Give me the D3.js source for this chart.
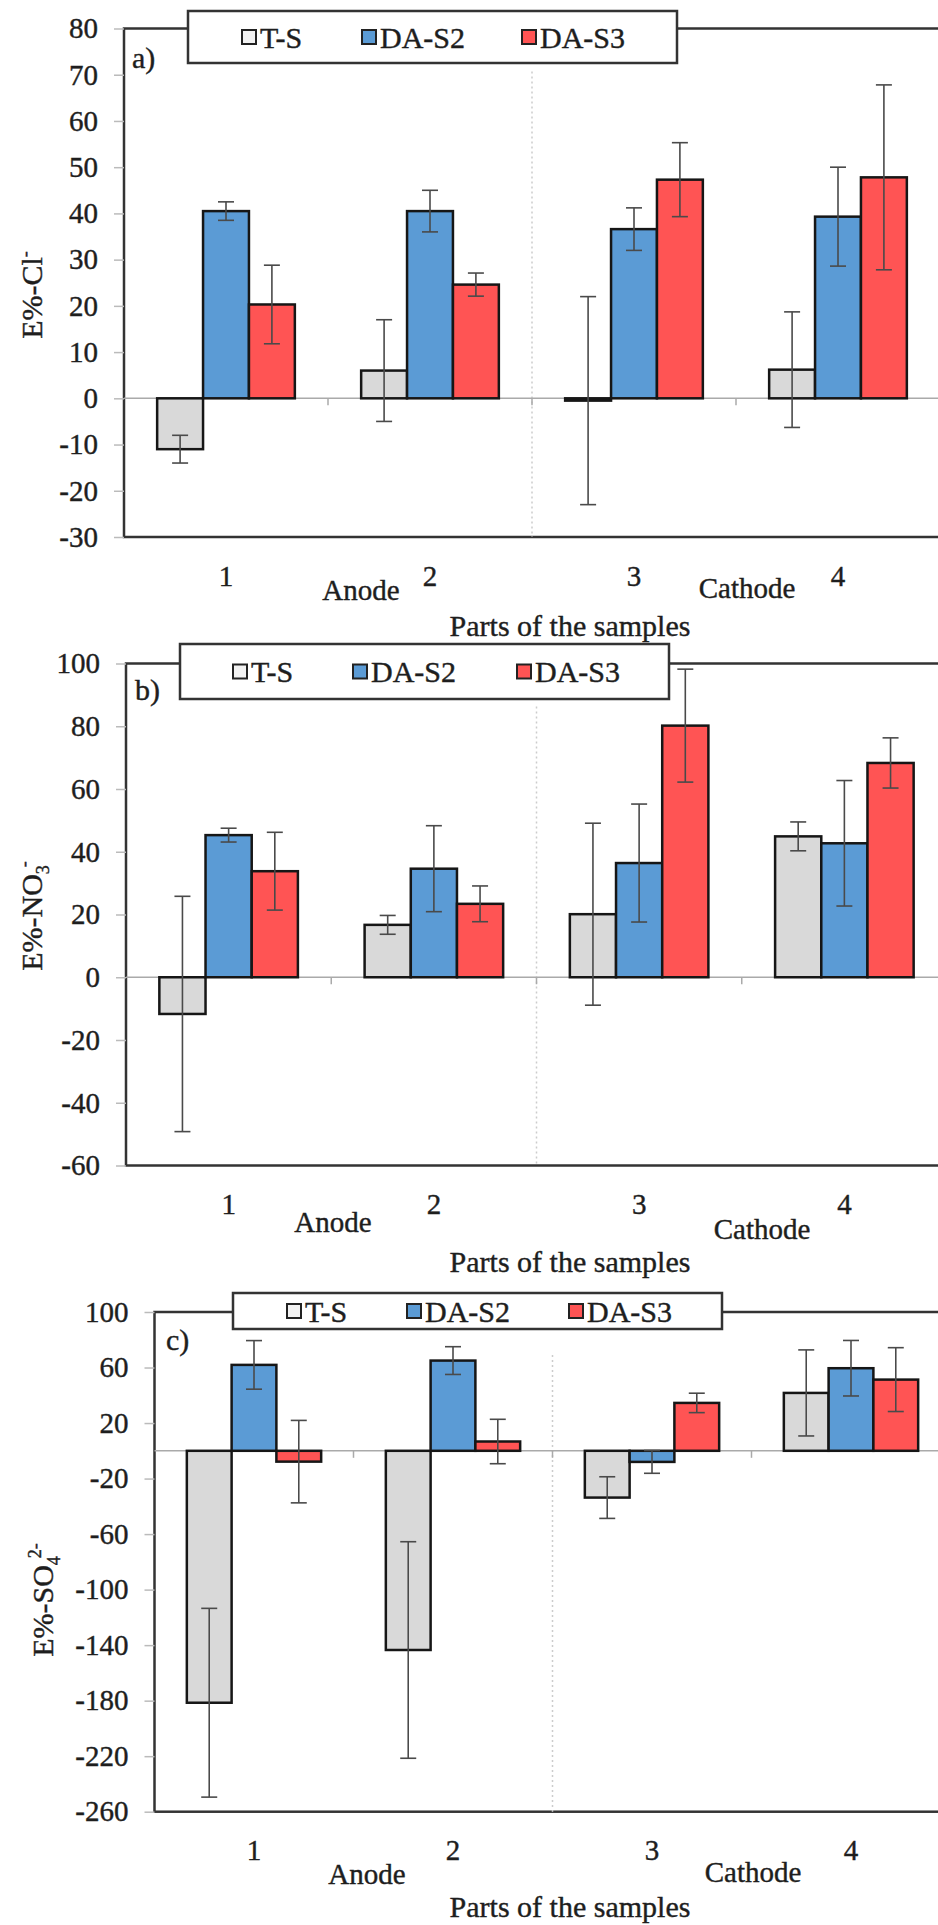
<!DOCTYPE html>
<html>
<head>
<meta charset="utf-8">
<script src="https://cdn.jsdelivr.net/npm/d3@7"></script>
<style>
  body { margin: 0; background: #fff; }
  text { font-family: "Liberation Serif", "Times New Roman", serif; fill: #1e1e1e;
         stroke: #1e1e1e; stroke-width: 0.4px; }
</style>
</head>
<body>
<script>

var categories = ["1", "2", "3", "4"];
var series = ["T-S", "DA-S2", "DA-S3"];
var colors = ["#d9d9d9", "#5b9bd5", "#ff5454"];

// a) chloride
var clTS = [-11, 6, -0.5, 6.2];
var clTSErr = [3, 11, 22.5, 12.5];
var clDA2 = [40.5, 40.5, 36.6, 39.3];
var clDA2Err = [2, 4.5, 4.6, 10.7];
var clDA3 = [20.3, 24.6, 47.3, 47.8];
var clDA3Err = [8.5, 2.5, 8, 20];
var clTicks = [-30, -20, -10, 0, 10, 20, 30, 40, 50, 60, 70, 80];

// b) nitrate
var noTS = [-11.7, 16.7, 20.1, 44.9];
var noTSErr = [37.5, 3, 29, 4.6];
var noDA2 = [45.3, 34.6, 36.4, 42.7];
var noDA2Err = [2.2, 13.7, 18.8, 20];
var noDA3 = [33.8, 23.4, 80.2, 68.3];
var noDA3Err = [12.4, 5.7, 18, 8];
var noTicks = [-60, -40, -20, 0, 20, 40, 60, 80, 100];

// c) sulphate
var soTS = [-181.5, -143.5, -33.7, 41.7];
var soTSErr = [68, 78, 15, 31];
var soDA2 = [61.9, 65, -8, 59.5];
var soDA2Err = [17.5, 10, 8.2, 20];
var soDA3 = [-7.8, 6.7, 34.5, 51.3];
var soDA3Err = [29.7, 16, 7, 23];
var soTicks = [-260, -220, -180, -140, -100, -60, -20, 20, 60, 100];

var W = 938, H = 1925;
var svg = d3.select("body").append("svg")
    .attr("width", W).attr("height", H)
    .attr("font-family", "Liberation Serif, serif");
svg.append("rect").attr("width", W).attr("height", H).attr("fill", "#fff");

var panels = [
  { letter: "a)", values: [clTS, clDA2, clDA3], errors: [clTSErr, clDA2Err, clDA3Err],
    domain: [-30, 80], ticks: clTicks, left: 124, right: 940, top: 28.5, bottom: 537,
    title: ["E%-Cl", null, "-"], titleX: 42, titleY: 295,
    legend: { x1: 188, x2: 677, y1: 11, y2: 63, items: [242, 362, 522] },
    letterPos: [132, 68], anode: [361, 600], cathode: [747, 598], parts: 636 },
  { letter: "b)", values: [noTS, noDA2, noDA3], errors: [noTSErr, noDA2Err, noDA3Err],
    domain: [-60, 100], ticks: noTicks, left: 126, right: 947, top: 663.5, bottom: 1165.5,
    title: ["E%-NO", "3", "-"], titleX: 42, titleY: 916,
    legend: { x1: 180, x2: 669, y1: 644, y2: 699, items: [233, 353, 517] },
    letterPos: [135, 700], anode: [333, 1232], cathode: [762, 1239], parts: 1272 },
  { letter: "c)", values: [soTS, soDA2, soDA3], errors: [soTSErr, soDA2Err, soDA3Err],
    domain: [-260, 100], ticks: soTicks, left: 154.5, right: 950.5, top: 1312, bottom: 1811.7,
    title: ["E%-SO", "4", "2-"], titleX: 53, titleY: 1600,
    legend: { x1: 233, x2: 722, y1: 1293, y2: 1329, items: [287, 407, 569] },
    letterPos: [166, 1350], anode: [367, 1884], cathode: [753, 1882], parts: 1917 }
];

panels.forEach(drawPanel);

function drawPanel(p) {
  var x0 = d3.scaleBand().domain(categories)
      .range([p.left, p.right]).paddingInner(0.325).paddingOuter(0.1625);
  var x1 = d3.scaleBand().domain(series).range([0, x0.bandwidth()]);
  var y = d3.scaleLinear().domain(p.domain).range([p.bottom, p.top]);
  var color = d3.scaleOrdinal().domain(series).range(colors);
  var g = svg.append("g");

  // plot frame (right side runs off the picture)
  g.append("rect")
      .attr("x", p.left).attr("y", p.top)
      .attr("width", p.right + 30 - p.left).attr("height", p.bottom - p.top)
      .attr("fill", "none").attr("stroke", "#333").attr("stroke-width", 2.5);

  // dotted divider anode / cathode
  var divX = p.left + 2 * x0.step();
  g.append("line")
      .attr("x1", divX).attr("x2", divX)
      .attr("y1", p.top + 43).attr("y2", p.bottom)
      .attr("stroke", "#ccc").attr("stroke-width", 1.5)
      .attr("stroke-dasharray", "2,3");

  // y axis
  var yAxis = g.append("g")
      .attr("transform", "translate(" + p.left + ",0)")
      .call(d3.axisLeft(y).tickValues(p.ticks).tickSize(10).tickPadding(16)
        .tickFormat(function(d) { return String(d); }));
  yAxis.attr("font-family", null).attr("font-size", null);
  yAxis.select(".domain").remove();
  yAxis.selectAll(".tick line").attr("stroke", "#bbb").attr("stroke-width", 1.5);
  yAxis.selectAll(".tick text")
      .style("font-size", "29px").attr("fill", "#1e1e1e");

  // zero line with category separators
  var zero = y(0);
  g.append("line")
      .attr("x1", p.left).attr("x2", p.right + 30)
      .attr("y1", zero).attr("y2", zero)
      .attr("stroke", "#aaa").attr("stroke-width", 1.5);
  g.selectAll(".sep").data(d3.range(1, categories.length)).enter()
    .append("line")
      .attr("x1", function(i) { return p.left + i * x0.step(); })
      .attr("x2", function(i) { return p.left + i * x0.step(); })
      .attr("y1", zero).attr("y2", zero + 7)
      .attr("stroke", "#aaa").attr("stroke-width", 1.5);

  // category labels
  var xAxis = g.append("g")
      .attr("transform", "translate(0," + p.bottom + ")")
      .call(d3.axisBottom(x0).tickSize(0).tickPadding(28));
  xAxis.attr("font-family", null).attr("font-size", null);
  xAxis.select(".domain").remove();
  xAxis.selectAll(".tick text")
      .style("font-size", "29px").attr("fill", "#1e1e1e");

  // bars
  var rows = categories.map(function(c, i) {
    return { cat: c, vals: series.map(function(s, j) {
      return { s: s, v: p.values[j][i], e: p.errors[j][i] };
    }) };
  });

  var grp = g.selectAll(".grp").data(rows).enter()
    .append("g")
      .attr("transform", function(d) { return "translate(" + x0(d.cat) + ",0)"; });

  grp.selectAll("rect").data(function(d) { return d.vals; }).enter()
    .append("rect")
      .attr("x", function(d) { return x1(d.s); })
      .attr("y", function(d) { return y(Math.max(d.v, 0)); })
      .attr("width", x1.bandwidth())
      .attr("height", function(d) { return Math.abs(y(d.v) - y(0)); })
      .attr("fill", function(d) { return color(d.s); })
      .attr("stroke", "#161616").attr("stroke-width", 2.5);

  // error bars
  var eb = grp.selectAll(".err").data(function(d) { return d.vals; }).enter()
    .append("g").attr("class", "err")
      .attr("stroke", "#4a4a4a").attr("stroke-width", 1.6);
  eb.append("line")
      .attr("x1", function(d) { return x1(d.s) + x1.bandwidth() / 2; })
      .attr("x2", function(d) { return x1(d.s) + x1.bandwidth() / 2; })
      .attr("y1", function(d) { return y(d.v + d.e); })
      .attr("y2", function(d) { return y(d.v - d.e); });
  [1, -1].forEach(function(sign) {
    eb.append("line")
        .attr("x1", function(d) { return x1(d.s) + x1.bandwidth() / 2 - 8; })
        .attr("x2", function(d) { return x1(d.s) + x1.bandwidth() / 2 + 8; })
        .attr("y1", function(d) { return y(d.v + sign * d.e); })
        .attr("y2", function(d) { return y(d.v + sign * d.e); });
  });

  // legend
  var L = p.legend;
  g.append("rect")
      .attr("x", L.x1).attr("y", L.y1)
      .attr("width", L.x2 - L.x1).attr("height", L.y2 - L.y1)
      .attr("fill", "#fff").attr("stroke", "#333").attr("stroke-width", 2.5);
  var cy = (L.y1 + L.y2) / 2;
  series.forEach(function(s, j) {
    g.append("rect")
        .attr("x", L.items[j]).attr("y", cy - 7)
        .attr("width", 14).attr("height", 14)
        .attr("fill", j === 0 ? "#f2f2f2" : colors[j])
        .attr("stroke", "#222").attr("stroke-width", 2);
    g.append("text")
        .attr("x", L.items[j] + 18).attr("y", cy)
        .attr("dy", "0.35em")
        .style("font-size", "30px")
        .text(s);
  });

  // panel letter
  g.append("text")
      .attr("x", p.letterPos[0]).attr("y", p.letterPos[1])
      .style("font-size", "30px").text(p.letter);

  // y title with sub/superscripts
  var t = g.append("text")
      .attr("transform", "translate(" + p.titleX + "," + p.titleY + ") rotate(-90)")
      .attr("text-anchor", "middle")
      .style("font-size", "30px");
  t.append("tspan").text(p.title[0]);
  if (p.title[1]) {
    t.append("tspan").attr("dy", 7).style("font-size", "18px").text(p.title[1]);
    t.append("tspan").attr("dy", -19).attr("dx", -2).style("font-size", "18px").text(p.title[2]);
  } else {
    t.append("tspan").attr("dy", -11).style("font-size", "18px").text(p.title[2]);
  }

  // anode / cathode and x title
  g.append("text").attr("x", p.anode[0]).attr("y", p.anode[1])
      .attr("text-anchor", "middle").style("font-size", "29px").text("Anode");
  g.append("text").attr("x", p.cathode[0]).attr("y", p.cathode[1])
      .attr("text-anchor", "middle").style("font-size", "29px").text("Cathode");
  g.append("text").attr("x", 570).attr("y", p.parts)
      .attr("text-anchor", "middle").style("font-size", "30px")
      .text("Parts of the samples");
}
</script>
</body>
</html>
